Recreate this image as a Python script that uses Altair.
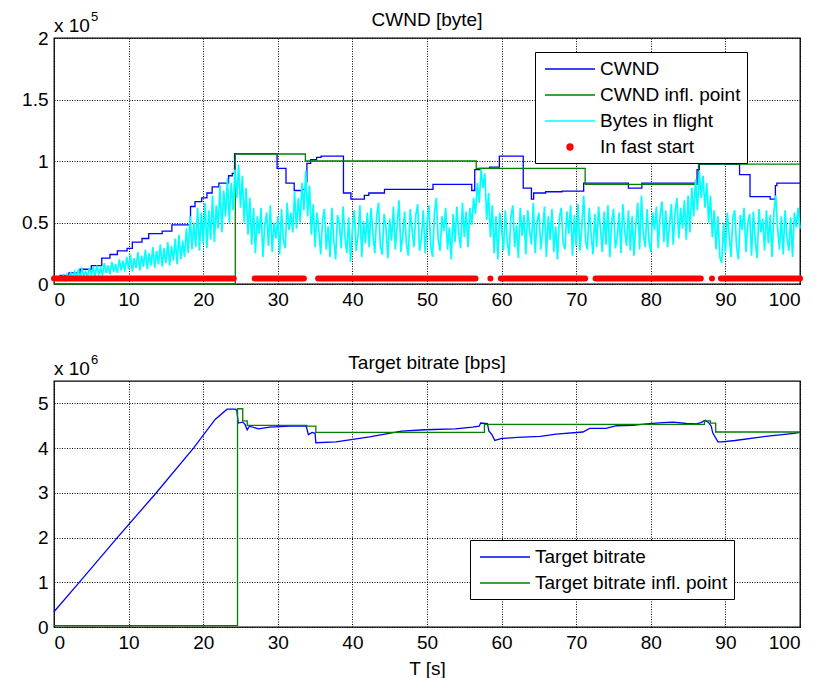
import altair as alt
import pandas as pd
import numpy as np

FONT = "Liberation Sans"

# ---------------- top panel: CWND [byte]  (values in units of 1e5) ----------------
top_names = ["CWND", "CWND infl. point", "Bytes in flight", "In fast start"]
top_colors = ["#0000ff", "#008000", "#00ffff", "#ff0000"]

cwnd_t = [0, 0.8, 2.0, 3.5, 5.0, 6.4, 7.5, 8.5, 9.8, 10.5, 11.8, 12.7, 14.5, 15.8,
          18.3, 18.9, 19.8, 20.5, 21.2, 22.1, 23.4, 23.9, 24.2, 29.9, 31.1, 32.2,
          33.2, 33.8, 33.9, 34.4, 35.2, 35.8, 38.8, 39.8, 41.6, 42.2, 44.3, 50.8,
          56.0, 56.4, 57.1, 58.4, 59.7, 62.9, 64.0, 64.3, 65.9, 68.1, 71.0, 77.0,
          78.8, 86.2, 86.5, 91.9, 93.3, 96.0, 96.7, 96.9, 100]
cwnd_v = [0.03, 0.07, 0.09, 0.12, 0.15, 0.21, 0.24, 0.27, 0.29, 0.34, 0.37, 0.41, 0.43, 0.48,
          0.63, 0.67, 0.70, 0.74, 0.79, 0.82, 0.88, 0.90, 1.06, 0.94, 0.82, 0.76,
          0.77, 0.83, 0.98, 1.01, 1.03, 1.04, 0.74, 0.69, 0.72, 0.74, 0.77, 0.81,
          0.76, 0.93, 0.94, 0.95, 1.04, 0.78, 0.69, 0.74, 0.75, 0.755, 0.82, 0.78,
          0.82, 0.93, 0.975, 0.89, 0.71, 0.69, 0.80, 0.82, 0.82]

infl_t = [0, 24.3, 33.7, 56.6, 71.2, 86.4, 100]
infl_v = [0, 1.057, 1.0, 0.94, 0.81, 0.975, 0.975]

bif_dt = 0.25
bif_v = [
    0.02, 0.05, 0.03, 0.06, 0.04, 0.07, 0.03, 0.08, 0.05, 0.09,
    0.04, 0.10, 0.06, 0.11, 0.05, 0.12, 0.07, 0.10, 0.06, 0.13,
    0.07, 0.14, 0.06, 0.15, 0.08, 0.13, 0.07, 0.17, 0.09, 0.15,
    0.08, 0.18, 0.10, 0.16, 0.09, 0.20, 0.11, 0.19, 0.10, 0.22,
    0.12, 0.24, 0.10, 0.21, 0.13, 0.26, 0.11, 0.23, 0.14, 0.28,
    0.12, 0.25, 0.15, 0.30, 0.13, 0.27, 0.16, 0.32, 0.14, 0.29,
    0.17, 0.34, 0.15, 0.31, 0.19, 0.37, 0.16, 0.40, 0.20, 0.35,
    0.22, 0.45, 0.25, 0.55, 0.28, 0.50, 0.30, 0.62, 0.27, 0.58,
    0.33, 0.66, 0.29, 0.60, 0.36, 0.72, 0.34, 0.64, 0.45, 0.80,
    0.42, 0.76, 0.55, 0.86, 0.50, 0.82, 0.60, 0.93, 0.70, 0.97,
    0.62, 0.88, 0.50, 0.78, 0.40, 0.70, 0.32, 0.62, 0.25, 0.55,
    0.41, 0.62, 0.22, 0.47, 0.58, 0.31, 0.64, 0.26, 0.50, 0.37,
    0.55, 0.24, 0.61, 0.35, 0.29, 0.66, 0.44, 0.58, 0.42, 0.75,
    0.45, 0.70, 0.50, 0.82, 0.60, 0.92, 0.55, 0.80, 0.40, 0.65,
    0.30, 0.58, 0.44, 0.24, 0.52, 0.61, 0.28, 0.47, 0.22, 0.62,
    0.36, 0.20, 0.56, 0.49, 0.29, 0.63, 0.38, 0.25, 0.54, 0.18,
    0.45, 0.60, 0.27, 0.39, 0.64, 0.22, 0.51, 0.33, 0.58, 0.30,
    0.62, 0.41, 0.25, 0.55, 0.66, 0.31, 0.24, 0.57, 0.46, 0.21,
    0.53, 0.35, 0.63, 0.28, 0.48, 0.68, 0.26, 0.40, 0.59, 0.32,
    0.23, 0.61, 0.44, 0.30, 0.56, 0.65, 0.27, 0.37, 0.60, 0.25,
    0.49, 0.64, 0.31, 0.22, 0.58, 0.70, 0.36, 0.27, 0.55, 0.43,
    0.62, 0.28, 0.46, 0.20, 0.57, 0.34, 0.63, 0.41, 0.29, 0.66,
    0.38, 0.59, 0.30, 0.62, 0.48, 0.70, 0.57, 0.82, 0.66, 0.93,
    0.78, 0.90, 0.52, 0.74, 0.38, 0.64, 0.25, 0.55, 0.20, 0.58,
    0.45, 0.27, 0.60, 0.35, 0.23, 0.55, 0.64, 0.30, 0.48, 0.21,
    0.62, 0.39, 0.56, 0.24, 0.60, 0.44, 0.32, 0.66, 0.25, 0.51,
    0.58, 0.28, 0.43, 0.63, 0.22, 0.55, 0.36, 0.61, 0.26, 0.47,
    0.20, 0.54, 0.62, 0.33, 0.28, 0.59, 0.41, 0.64, 0.23, 0.56,
    0.31, 0.65, 0.27, 0.46, 0.72, 0.35, 0.28, 0.62, 0.40, 0.24,
    0.57, 0.30, 0.63, 0.45, 0.26, 0.59, 0.32, 0.64, 0.22, 0.50,
    0.61, 0.29, 0.38, 0.58, 0.25, 0.65, 0.43, 0.31, 0.60, 0.27,
    0.55, 0.23, 0.49, 0.66, 0.28, 0.72, 0.40, 0.30, 0.61, 0.35,
    0.26, 0.58, 0.44, 0.63, 0.29, 0.56, 0.67, 0.34, 0.60, 0.30,
    0.48, 0.65, 0.32, 0.58, 0.70, 0.37, 0.62, 0.45, 0.68, 0.36,
    0.72, 0.42, 0.78, 0.55, 0.85, 0.60, 0.92, 0.70, 0.88, 0.62,
    0.82, 0.50, 0.72, 0.38, 0.60, 0.28, 0.55, 0.22, 0.17, 0.50,
    0.25, 0.58, 0.40, 0.22, 0.54, 0.60, 0.30, 0.20, 0.56, 0.44,
    0.62, 0.26, 0.49, 0.57, 0.23, 0.59, 0.35, 0.21, 0.61, 0.42,
    0.53, 0.27, 0.60, 0.33, 0.56, 0.22, 0.58, 0.72, 0.45, 0.28,
    0.55, 0.24, 0.60, 0.38, 0.27, 0.54, 0.22, 0.58, 0.46, 0.62,
    0.45,
]

fs_start = [0.0, 26.9, 35.4, 58.5, 59.9, 72.6, 88.2, 89.4]
fs_end = [24.1, 33.5, 56.5, 58.5, 71.2, 86.7, 88.2, 100.0]
fs_level = 0.045

# ---------------- bottom panel: Target bitrate [bps] (values in units of 1e6) ----------------
bot_names = ["Target bitrate", "Target bitrate infl. point"]
bot_colors = ["#0000ff", "#008000"]

rate_t = [0, 3.3, 8.4, 13.6, 18.7, 21.6, 23.2, 24.3, 24.5, 24.7, 25.3, 25.6, 25.9, 26.2,
          27.4, 28.9, 31.6, 33.8, 34.1, 34.6, 35.0, 35.1, 37.8, 42.3, 46.6, 49.7, 53.8,
          56.1, 57.0, 57.2, 58.1, 58.3, 58.7, 59.1, 59.9, 62.1, 65.2, 67.3, 70.9, 71.8,
          74.0, 75.4, 77.6, 79.4, 81.6, 83.0, 84.8, 86.1, 86.7, 87.3, 87.7, 88.1, 88.3,
          89.0, 89.5, 91.3, 95.4, 99.2, 100]
rate_v = [0.34, 0.98, 1.98, 2.98, 4.0, 4.64, 4.87, 4.87, 4.84, 4.56, 4.58, 4.53, 4.41, 4.49,
          4.43, 4.47, 4.49, 4.50, 4.30, 4.35, 4.33, 4.12, 4.14, 4.25, 4.38, 4.41, 4.43,
          4.47, 4.49, 4.56, 4.55, 4.38, 4.30, 4.17, 4.21, 4.24, 4.26, 4.31, 4.36, 4.44,
          4.44, 4.50, 4.51, 4.54, 4.57, 4.58, 4.55, 4.54, 4.57, 4.62, 4.58, 4.49, 4.34,
          4.14, 4.14, 4.17, 4.26, 4.33, 4.35]

rinfl_t = [0, 24.6, 25.3, 25.9, 33.9, 35.1, 57.7, 87.2, 88.0, 88.7, 100]
rinfl_v = [0.03, 4.88, 4.61, 4.51, 4.49, 4.35, 4.53, 4.61, 4.56, 4.36, 4.36]

x_ticks = [0, 10, 20, 30, 40, 50, 60, 70, 80, 90, 100]
top_y_ticks = [0, 0.5, 1, 1.5, 2]
bot_y_ticks = [0, 1, 2, 3, 4, 5]
top_exp = "5"
bot_exp = "6"

# ---------------- data frames ----------------
df_cwnd = pd.DataFrame({"t": cwnd_t, "v": cwnd_v, "series": top_names[0]})
df_infl = pd.DataFrame({"t": infl_t, "v": infl_v, "series": top_names[1]})
df_bif = pd.DataFrame({"t": np.round(np.arange(len(bif_v)) * bif_dt, 3), "v": bif_v,
                       "series": top_names[2]})
df_fs = pd.DataFrame({"t0": fs_start, "t1": fs_end, "v": fs_level, "series": top_names[3]})
df_rate = pd.DataFrame({"t": rate_t, "v": rate_v, "series": bot_names[0]})
df_rinfl = pd.DataFrame({"t": rinfl_t, "v": rinfl_v, "series": bot_names[1]})

LINE_PATH = "M-0.7,0H4.3"
# a small solid-looking dot drawn with concentric rings (centred on the legend line's middle)
DOT_PATH = ("M2.1,0A0.3,0.3,0,1,0,1.5,0A0.3,0.3,0,1,0,2.1,0Z"
            "M2.0,0A0.2,0.2,0,1,0,1.6,0A0.2,0.2,0,1,0,2.0,0Z"
            "M1.9,0A0.1,0.1,0,1,0,1.7,0A0.1,0.1,0,1,0,1.9,0Z")


def make_legend(lx, ly, dot_name=None):
    if dot_name is not None:
        stype = alt.ExprRef(expr=f"datum.value === '{dot_name}' ? '{DOT_PATH}' : '{LINE_PATH}'")
    else:
        stype = LINE_PATH
    return alt.Legend(
        title=None, orient="none", legendX=lx, legendY=ly,
        strokeColor="black", fillColor="white", padding=6,
        labelFontSize=19, labelFont=FONT, labelColor="black", labelLimit=400,
        labelOffset=37, rowPadding=5, symbolSize=400, symbolStrokeWidth=1.3,
        symbolType=stype,
    )


xscale = alt.Scale(domain=[0, 100], nice=False, zero=False)


def panel(layers_spec, ydomain, yticks, names, colors, legend, title, xtitle, exp):
    yscale = alt.Scale(domain=ydomain, nice=False, zero=False)
    cscale = alt.Scale(domain=names, range=colors)
    xaxis = alt.Axis(values=x_ticks, title=xtitle, format=".4~g")
    yaxis = alt.Axis(values=yticks, title=None, format=".4~g")
    layers = []
    for kind, df in layers_spec:
        color = alt.Color("series:N", scale=cscale, legend=legend)
        if kind == "step":
            m = alt.Chart(df).mark_line(interpolate="step-after", strokeWidth=1.3)
            layers.append(m.encode(x=alt.X("t:Q", scale=xscale, axis=xaxis),
                                   y=alt.Y("v:Q", scale=yscale, axis=yaxis), color=color))
        elif kind == "line":
            m = alt.Chart(df).mark_line(strokeWidth=1.3)
            layers.append(m.encode(x=alt.X("t:Q", scale=xscale, axis=xaxis),
                                   y=alt.Y("v:Q", scale=yscale, axis=yaxis), color=color))
        elif kind == "noise":
            m = alt.Chart(df).mark_line(strokeWidth=1.7, strokeJoin="miter")
            layers.append(m.encode(x=alt.X("t:Q", scale=xscale, axis=xaxis),
                                   y=alt.Y("v:Q", scale=yscale, axis=yaxis), color=color))
        elif kind == "dots":
            m = alt.Chart(df).mark_rule(strokeWidth=6, strokeCap="round")
            layers.append(m.encode(x=alt.X("t0:Q", scale=xscale, axis=xaxis), x2="t1:Q",
                                   y=alt.Y("v:Q", scale=yscale, axis=yaxis), color=color))
    tdf = pd.DataFrame({"base": ["x 10"], "exp": [exp]})
    base_txt = alt.Chart(tdf).mark_text(align="left", baseline="alphabetic", fontSize=19,
                                        color="black", font=FONT).encode(
        x=alt.value(0), y=alt.value(-6), text="base:N")
    exp_txt = alt.Chart(tdf).mark_text(align="left", baseline="alphabetic", fontSize=13,
                                       color="black", font=FONT).encode(
        x=alt.value(37), y=alt.value(-17), text="exp:N")
    layers += [base_txt, exp_txt]
    return alt.layer(*layers).properties(
        width=746, height=246,
        title=alt.TitleParams(title, fontSize=19, fontWeight="normal", color="black",
                              font=FONT, anchor="middle", offset=-19),
    )


top = panel([("step", df_cwnd), ("step", df_infl), ("noise", df_bif), ("dots", df_fs)],
            [0, 2], top_y_ticks, top_names, top_colors,
            make_legend(481, 14, top_names[3]), "CWND [byte]", None, top_exp)
bottom = panel([("line", df_rate), ("step", df_rinfl)],
               [0, 5.5], bot_y_ticks, bot_names, bot_colors,
               make_legend(416, 159), "Target bitrate [bps]", "T [s]", bot_exp)

chart = alt.vconcat(top, bottom, spacing=43).resolve_scale(
    color="independent", y="independent", x="independent"
).resolve_legend(color="independent").properties(
    padding={"left": 12, "top": 2, "right": 5, "bottom": 0}
).configure(font=FONT).configure_view(
    stroke="black", strokeWidth=1.3
).configure_axis(
    grid=True, gridColor="black", gridDash=[1, 1.5], gridWidth=1, gridOpacity=1,
    domain=False, ticks=False, tickSize=0, labelFontSize=19, labelFont=FONT,
    labelColor="black", labelPadding=6, titleFontSize=19, titleFont=FONT,
    titleFontWeight="normal", titleColor="black", titlePadding=7,
)

chart.save("out.html", embed_options={"renderer": "svg", "actions": False})
